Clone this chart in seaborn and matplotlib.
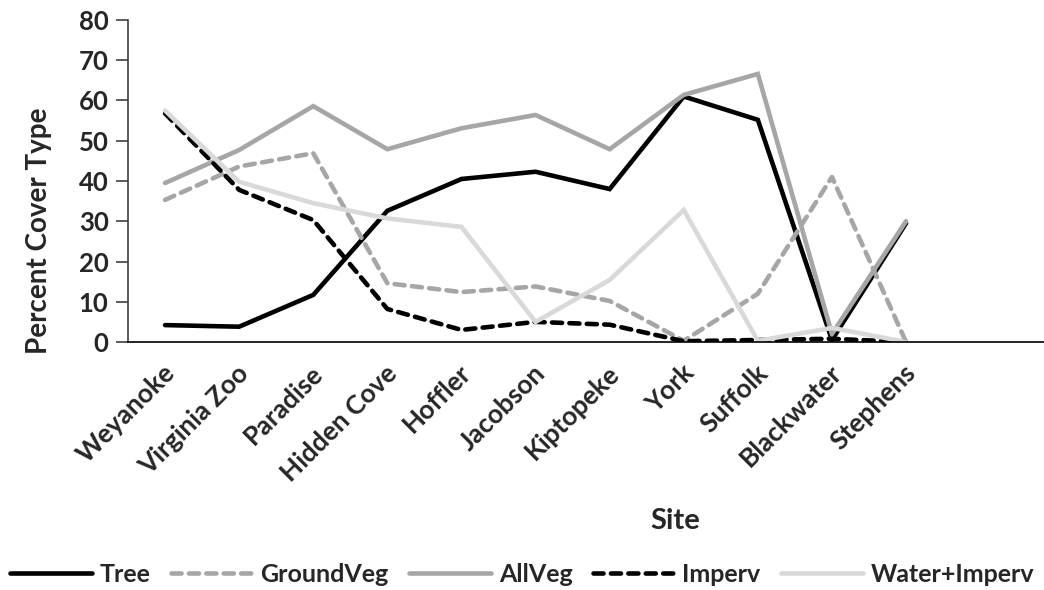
import seaborn as sns
import pandas as pd
from matplotlib import pyplot as plt
from matplotlib.transforms import ScaledTranslation

sites = ["Weyanoke", "Virginia Zoo", "Paradise", "Hidden Cove", "Hoffler", "Jacobson",
         "Kiptopeke", "York", "Suffolk", "Blackwater", "Stephens"]
tree = [4.2, 3.8, 11.7, 32.6, 40.5, 42.3, 38.0, 61.0, 55.2, 0.5, 29.5]
ground_veg = [35.3, 43.6, 46.9, 14.6, 12.4, 13.8, 10.2, 0.3, 12.0, 41.0, 0.0]
all_veg = [39.5, 47.7, 58.6, 47.9, 53.1, 56.4, 47.9, 61.4, 66.6, 2.0, 30.0]
imperv = [56.8, 37.8, 30.3, 8.2, 3.0, 5.0, 4.3, 0.2, 0.5, 0.8, 0.0]
water_imperv = [57.5, 39.8, 34.5, 30.7, 28.6, 5.0, 15.4, 32.8, 0.3, 3.5, 0.0]

series = {"Tree": tree, "GroundVeg": ground_veg, "AllVeg": all_veg,
          "Imperv": imperv, "Water+Imperv": water_imperv}
colors = {"Tree": "#000000", "GroundVeg": "#a6a6a6", "AllVeg": "#a6a6a6",
          "Imperv": "#000000", "Water+Imperv": "#d9d9d9"}
dashes = {"Tree": "", "GroundVeg": (2.2, 1.6), "AllVeg": "",
          "Imperv": (2.2, 1.6), "Water+Imperv": ""}

rows = []
for name, vals in series.items():
    for s, v in zip(sites, vals):
        rows.append({"Site": s, "Cover": name, "Value": v})
df = pd.DataFrame(rows)

sns.set_style("white")
plt.rcParams['font.family'] = ['Lato', 'DejaVu Sans']
plt.rcParams['font.weight'] = 'bold'

fig = plt.figure(figsize=(10.44, 5.9), dpi=100)
ax = fig.add_axes([128 / 1044, 1 - 342 / 590, 1 - 128 / 1044, 322 / 590])

sns.lineplot(data=df, x="Site", y="Value", hue="Cover", style="Cover",
             palette=colors, dashes=dashes, sort=False, linewidth=3.3,
             legend=False, ax=ax)
for line in ax.get_lines():
    line.set_dash_capstyle('round')
    line.set_solid_capstyle('round')
    line.set_solid_joinstyle('miter')

ax.set_ylim(0, 80)
ax.set_yticks(range(0, 81, 10))
ax.set_xlim(-0.5, (1044 - 128) / 74.1 - 0.5)

for side in ["top", "right"]:
    ax.spines[side].set_visible(False)
ax.spines["left"].set_color("#404040")
ax.spines["bottom"].set_color("#000000")
ax.spines["left"].set_linewidth(1.2)
ax.spines["bottom"].set_linewidth(1.2)

ax.tick_params(axis="y", left=True, length=9, width=1.2, color="#404040",
               labelsize=18.5, pad=5)
ax.tick_params(axis="x", bottom=False, labelsize=19, pad=16)
for lab in ax.get_yticklabels():
    lab.set_fontweight("bold")
shift = ScaledTranslation(6 / 100, 0, fig.dpi_scale_trans)
for lab in ax.get_xticklabels():
    lab.set_rotation(45)
    lab.set_ha("right")
    lab.set_va("center")
    lab.set_rotation_mode("anchor")
    lab.set_fontweight("bold")
    lab.set_transform(lab.get_transform() + shift)

ax.set_ylabel("Percent Cover Type", fontsize=20, fontweight="bold")
ax.yaxis.set_label_coords(-0.083, 0.345)
ax.set_xlabel("Site", fontsize=21, fontweight="bold")
ax.xaxis.set_label_coords(0.597, -0.515)

ax.legend(handles=ax.get_lines(), labels=list(series.keys()), loc="center",
          bbox_to_anchor=(0.5, 0.027), bbox_transform=fig.transFigure,
          ncol=5, frameon=False, handlelength=3.3, handletextpad=0.3,
          columnspacing=0.8, prop={"size": 18, "weight": "bold"})

plt.savefig("out.png", dpi=100)
